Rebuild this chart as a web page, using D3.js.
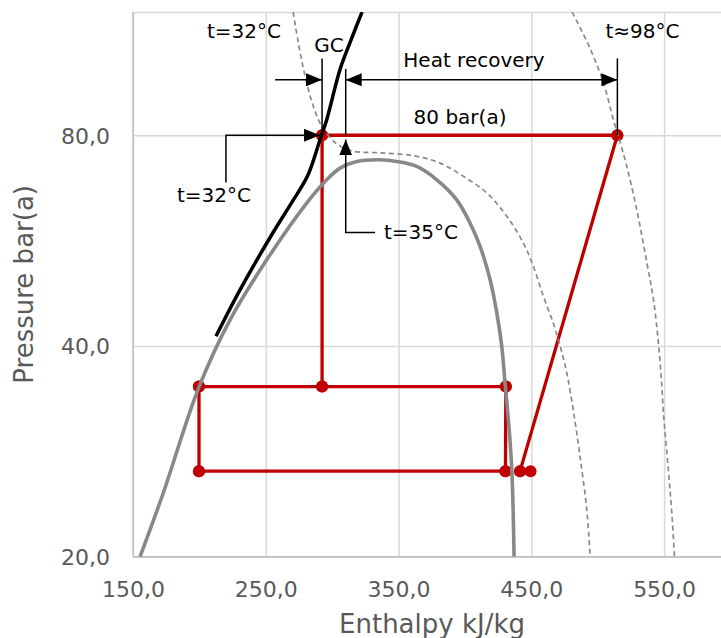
<!DOCTYPE html>
<html><head><meta charset="utf-8">
<script src="https://cdn.jsdelivr.net/npm/d3@7"></script>
<style>
body{margin:0;background:#fff}
svg{display:block}
text{font-family:"DejaVu Sans",Verdana,sans-serif}
</style></head>
<body><svg id="c" width="721" height="638"></svg>
<script>
// ---- data (enthalpy kJ/kg, pressure bar(a)) ----
const xTicks = [150, 250, 350, 450, 550];
const yTicks = [20, 40, 80];
const dome = [[155.3,20],[172.6,24.6],[199.3,34.8],[223.1,43.6],[250.7,53.1],[280.8,64.0],[295.9,69.1],[305.9,71.8],[318.5,73.4],[336.1,73.8],[348.6,73.4],[363.7,72.2],[378.8,69.1],[393.8,64.7],[403.9,59.9],[411.4,55.5],[418.9,49.8],[424.0,44.6],[427.7,40.0],[430.2,35.4],[432.7,31.4],[435.3,26.6],[437.0,20]];
const iso32 = [[212.5,41.3],[230.6,48.1],[255.5,58.1],[269.5,64.1],[281.5,70.0],[290.9,78.9],[295.9,84.2],[305.9,99.3],[313.5,108.6],[322.5,120]];
const iso35 = [[270.6,120],[274.5,108.5],[279.6,97.2],[285.8,88.0],[292.1,82.4],[299.7,78.9],[305.9,77.2],[315.9,75.9],[336.1,75.5],[361.1,74.8],[381.3,73.0],[398.8,69.9],[416.4,66.2],[431.5,61.3],[444.0,56.1],[451.5,52.0],[459.1,47.1],[466.6,43.1],[471.7,40.0],[476.7,36.6],[481.9,32.1],[486.7,27.8],[491.8,23.3],[494.3,20]];
const iso98 = [[480.7,120],[493.5,107.2],[504.3,95.1],[511.8,84.2],[515.6,79.7],[521.9,72.2],[529.4,62.6],[537.0,52.6],[542.0,46.6],[545.7,40.4],[548.3,35.0],[549.5,32.1],[553.2,26.6],[555.8,23.1],[557.8,20]];
const gasCooler  = [[292.4,80],[514.8,80]];
const compressor = [[441.5,26.5],[514.8,80]];
const valveHP    = [[292.4,80],[292.4,35]];
const receiver   = [[199.7,35],[292.4,35],[430.8,35]];
const valveLP    = [[199.7,35],[199.7,26.5]];
const evaporator = [[199.7,26.5],[430.5,26.5]];
const separator  = [[430.8,35],[430.5,26.5]];
const suction    = [[441.5,26.5],[449.4,26.5]];
// annotations
const extGC  = [[292.4,103],[292.4,80]];
const extHR1 = [[310.2,99.5],[310.2,80]];
const extHR2 = [[514.8,103],[514.8,80]];
const arrGC  = [[257,96],[292.4,96]];
const arrHR  = [[310.2,96],[514.8,96]];
const lead32 = [[220,68.5],[220,80],[290.8,80]];
const lead35 = [[332.3,58.1],[310.2,58.1],[310.2,78.9]];
const labels = [
  {t:"t=32°C", h:233.6, p:110.2},
  {t:"GC", h:297.6, p:105.2},
  {t:"Heat recovery", h:406.8, p:100.2},
  {t:"80 bar(a)", h:396.3, p:83.0},
  {t:"t≈98°C", h:533.7, p:110.2},
  {t:"t=32°C", h:211.0, p:64.2},
  {t:"t=35°C", h:366.9, p:56.9}
];

// ---- chart ----
const W = 721, H = 638;
const L = 133, T = 12, B = 556.7;
const x = d3.scaleLinear().domain([150, 600]).range([L, 730.5]);
const y = d3.scaleLog().base(2).domain([20, 120]).range([B, T]);
const svg = d3.select('#c');
const fmt = d => d.toFixed(1).replace('.', ',');

svg.append('defs').append('clipPath').attr('id','clip')
  .append('rect').attr('x',L).attr('y',T).attr('width',W-L).attr('height',B-T);
const mk = svg.select('defs').append('marker').attr('id','arr')
  .attr('viewBox','0 0 16 13').attr('refX',16).attr('refY',6.5)
  .attr('markerWidth',16).attr('markerHeight',13)
  .attr('markerUnits','userSpaceOnUse').attr('orient','auto-start-reverse');
mk.append('path').attr('d','M0,0L16,6.5L0,13Z').attr('fill','#000');

// gridlines + tick labels via axes
const gx = svg.append('g').attr('transform',`translate(0,${B})`)
  .call(d3.axisBottom(x).tickValues(xTicks).tickFormat(fmt).tickSize(-(B-T)).tickPadding(8));
gx.select('.domain').remove();
gx.selectAll('line').attr('stroke','#d9d9d9').attr('stroke-width',1.5);
gx.selectAll('text').attr('fill','#595959').attr('font-size',22).attr('dy',null).attr('y',40);

const gy = svg.append('g').attr('transform',`translate(${L},0)`)
  .call(d3.axisLeft(y).tickValues(yTicks.concat([120])).tickFormat(fmt).tickSize(-(W-L)).tickPadding(23));
gy.select('.domain').remove();
gy.selectAll('line').attr('stroke','#d9d9d9').attr('stroke-width',1.5);
gy.selectAll('text').attr('fill','#595959').attr('font-size',22).attr('dy','0.36em');
gy.selectAll('.tick').filter(d => d === 120).select('text').remove();

// axis lines
svg.append('line').attr('x1',L).attr('x2',L).attr('y1',T).attr('y2',B).attr('stroke','#bfbfbf').attr('stroke-width',1.5);
svg.append('line').attr('x1',L).attr('x2',W).attr('y1',B).attr('y2',B).attr('stroke','#bfbfbf').attr('stroke-width',1.5);

// axis titles
svg.append('text').attr('x',432).attr('y',633).attr('text-anchor','middle')
  .attr('font-size',26).attr('fill','#595959').text('Enthalpy kJ/kg');
svg.append('text').attr('transform',`translate(33,${(T+B)/2}) rotate(-90)`).attr('text-anchor','middle')
  .attr('font-size',26).attr('fill','#595959').text('Pressure bar(a)');

const plot = svg.append('g').attr('clip-path','url(#clip)');
const straight = d3.line().x(d => x(d[0])).y(d => y(d[1]));
const smooth = d3.line().x(d => x(d[0])).y(d => y(d[1])).curve(d3.curveCatmullRom.alpha(0.5));

// red cycle
const red = '#c00000';
const segs = [gasCooler, compressor, valveHP, receiver, valveLP, evaporator, separator, suction];
plot.selectAll('path.cyc').data(segs).join('path').attr('class','cyc')
  .attr('d', straight).attr('fill','none').attr('stroke',red).attr('stroke-width',3.3);
const pts = segs.flat();
plot.selectAll('circle').data(pts).join('circle')
  .attr('cx', d => x(d[0])).attr('cy', d => y(d[1])).attr('r',6).attr('fill',red);

// dome & isotherms
plot.append('path').datum(dome).attr('d', smooth).attr('fill','none')
  .attr('stroke','#888888').attr('stroke-width',3.6);
[iso35, iso98].forEach(s => plot.append('path').datum(s).attr('d', smooth).attr('fill','none')
  .attr('stroke','#8a8a8a').attr('stroke-width',1.7).attr('stroke-dasharray','5,3.5'));
plot.append('path').datum(iso32).attr('d', smooth).attr('fill','none')
  .attr('stroke','#000').attr('stroke-width',3.5);

// annotations
const ann = svg.append('g');
[extGC, extHR1, extHR2].forEach(s => ann.append('path').datum(s).attr('d', straight)
  .attr('stroke','#000').attr('stroke-width',1.5).attr('fill','none'));
ann.append('path').datum(arrGC).attr('d', straight).attr('stroke','#000').attr('stroke-width',1.5)
  .attr('fill','none').attr('marker-end','url(#arr)');
ann.append('path').datum(arrHR).attr('d', straight).attr('stroke','#000').attr('stroke-width',1.5)
  .attr('fill','none').attr('marker-end','url(#arr)').attr('marker-start','url(#arr)');
[lead32, lead35].forEach(s => ann.append('path').datum(s).attr('d', straight)
  .attr('stroke','#000').attr('stroke-width',1.5).attr('fill','none').attr('marker-end','url(#arr)'));
ann.selectAll('text').data(labels).join('text')
  .attr('x', d => x(d.h)).attr('y', d => y(d.p)).attr('text-anchor','middle')
  .attr('font-size',20).attr('fill','#000').text(d => d.t);
</script></body></html>
